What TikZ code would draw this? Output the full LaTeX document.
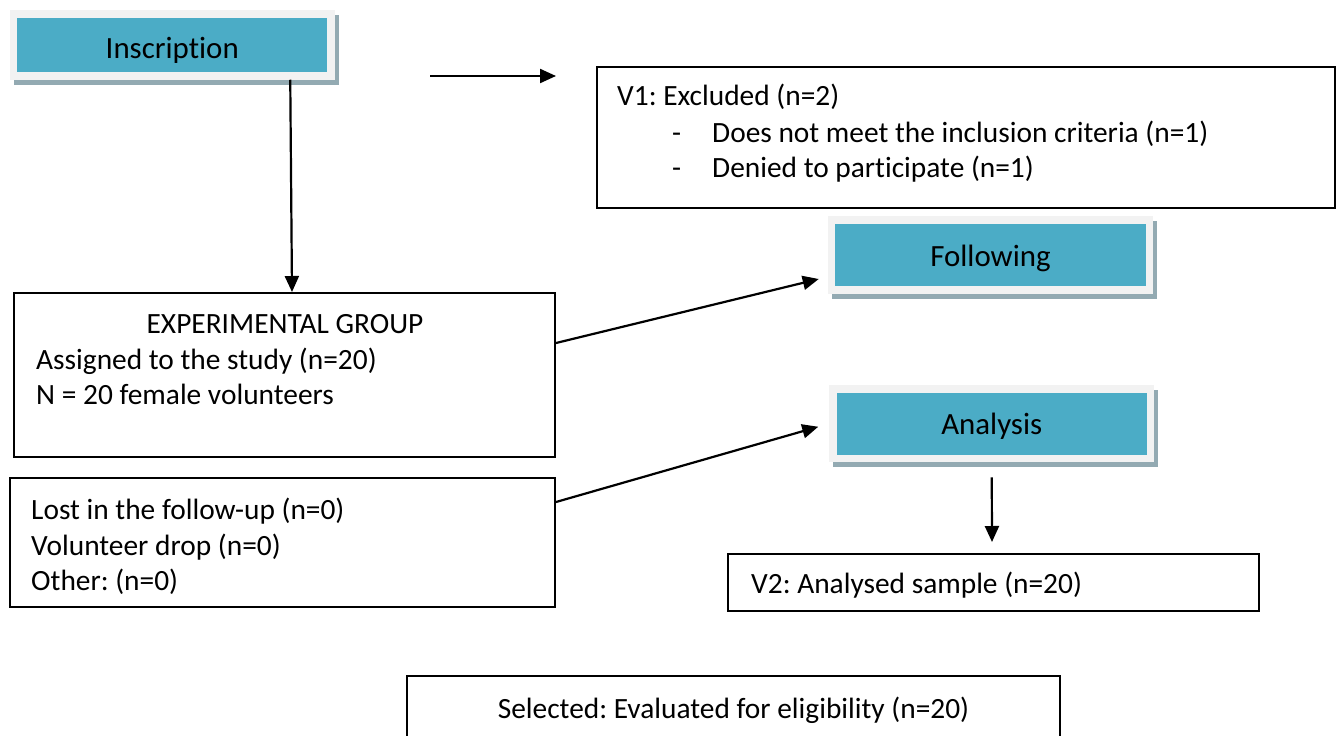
\documentclass[tikz,border=0pt]{standalone}
\usepackage{fontspec}
\setmainfont{Carlito}[RawFeature=-liga]
\usetikzlibrary{arrows.meta}
\definecolor{tealfill}{HTML}{4BACC6}
\definecolor{framec}{HTML}{F2F2F2}
\definecolor{shadowc}{HTML}{93AAB2}
\pgfdeclarelayer{background}
\pgfsetlayers{background,main}
\frenchspacing
\begin{document}
\begin{tikzpicture}[x=1bp,y=-1bp,
  box/.style={draw=black, line width=2bp, rectangle, inner sep=0pt, fill=white},
  tealbox/.style={draw=framec, fill=tealfill, line width=7.5bp, rectangle, inner sep=0pt, font=\fontsize{31}{37}\selectfont},
  txt/.style={anchor=base west, inner sep=0pt, font=\fontsize{29.5}{35}\selectfont},
  ctxt/.style={anchor=base, inner sep=0pt, font=\fontsize{29.5}{35}\selectfont},
  arr/.style={line width=2.2bp, -{Triangle[length=16bp,width=14bp]}},
  shadowbox/.style={fill=shadowc}]
\useasboundingbox (0,0) rectangle (1336,735);

% teal header boxes
\node[tealbox, minimum width=317.5bp, minimum height=62bp] (insc) at (172.25,45) {\raisebox{-5bp}[\height][\depth]{Inscription}};
\node[tealbox, minimum width=318bp, minimum height=70bp] (fol) at (990.5,255) {\raisebox{-3bp}[\height][\depth]{Following}};
\node[tealbox, minimum width=317.5bp, minimum height=69.5bp] (ana) at (991.75,423.75) {\raisebox{-3bp}[\height][\depth]{Analysis}};
\begin{pgfonlayer}{background}
  \foreach \n in {insc,fol,ana}
    \fill[shadowbox] ([shift={(4,5)}]\n.north west) rectangle ([shift={(4,5)}]\n.south east);
\end{pgfonlayer}

% plain boxes
\node[box, minimum width=738bp, minimum height=141bp] (v1) at (966,137.5) {};
\node[box, minimum width=541bp, minimum height=164bp] (exp) at (284.5,375) {};
\node[box, minimum width=545bp, minimum height=129bp] (lost) at (282.5,542.5) {};
\node[box, minimum width=531bp, minimum height=57bp] (v2) at (993.5,582.5) {};
\node[box, minimum width=653bp, minimum height=84bp] (sel) at (733.5,718) {};

% texts
\node[txt] (t1) at (617,106) {V1: Excluded (n=2)};
\node[txt] (t2) at (672,142) {-};
\node[txt] (t3) at (712,142) {Does not meet the inclusion criteria (n=1)};
\node[txt] (t4) at (672,177) {-};
\node[txt] (t5) at (712,177) {Denied to participate (n=1)};

\node[ctxt] (e1) at (285,333) {EXPERIMENTAL GROUP};
\node[txt] (e2) at (36,369) {Assigned to the study (n=20)};
\node[txt] (e3) at (36,404) {N = 20 female volunteers};

\node[txt] (l1) at (31,519) {Lost in the follow-up (n=0)};
\node[txt] (l2) at (31,555) {Volunteer drop (n=0)};
\node[txt] (l3) at (31,590) {Other: (n=0)};

\node[txt] (v2t) at (751,593) {V2: Analysed sample (n=20)};
\node[ctxt] (selt) at (733.5,718) {Selected: Evaluated for eligibility (n=20)};

% connectors
\coordinate (fa) at (430,76);
\coordinate (fb) at (556,76);
\draw[arr] ([shift={(118,0)}]insc.south) -- ([shift={(7.5,0)}]exp.north);
\draw[arr] (fa) -- (fb);
\draw[arr] ([shift={(0,-32)}]exp.east) -- ([shift={(-9,24)}]fol.west);
\draw[arr] ([shift={(0,-40.5)}]lost.east) -- ([shift={(-11,3)}]ana.west);
\draw[arr] ([shift={(0,15)}]ana.south) -- ([shift={(-1.5,-11)}]v2.north);
\end{tikzpicture}
\end{document}
